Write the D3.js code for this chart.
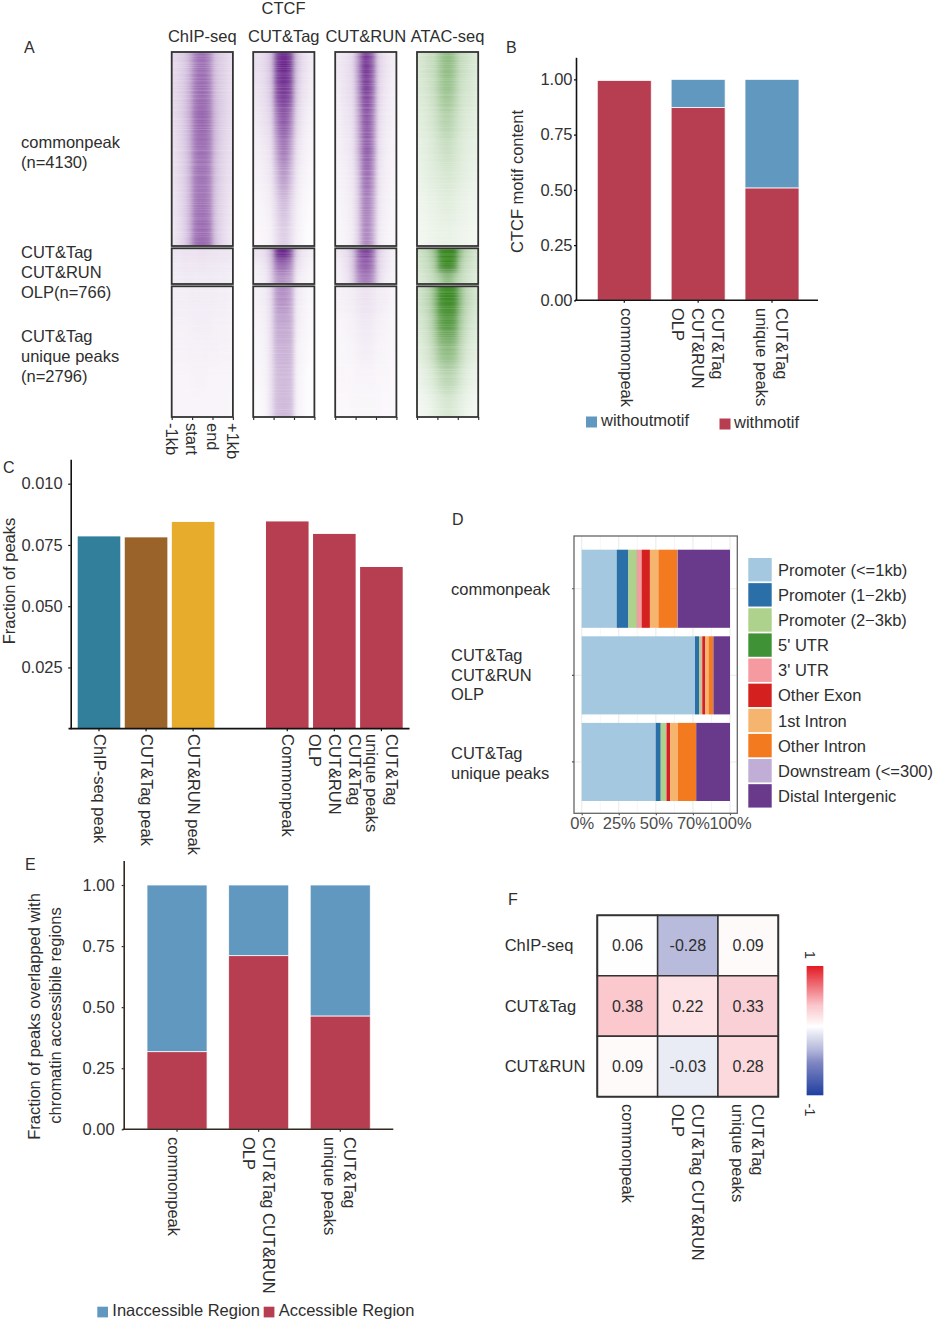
<!DOCTYPE html>
<html><head><meta charset="utf-8">
<script src="https://cdn.jsdelivr.net/npm/d3@7/dist/d3.min.js"></script>
<style>html,body{margin:0;padding:0;background:#fff}svg{display:block}text{font-family:"Liberation Sans",Arial,sans-serif;fill:#2e2e2e}</style>
</head><body><svg id="c" width="934" height="1321"></svg>
<script>
// ---------- Panel A: signal (rows top to bottom, bins -1kb .. +1kb)
const heatHeaders=["ChIP-seq","CUT&Tag","CUT&RUN","ATAC-seq"];
const heatTickLabels=["-1kb","start","end","+1kb"];
const chipCommon=[[.18,.21,.25,.36,.58,.68,.68,.56,.30,.24,.20,.16],[.18,.21,.26,.38,.62,.70,.70,.60,.32,.25,.20,.16],[.17,.20,.26,.38,.64,.72,.72,.62,.34,.25,.20,.16],[.15,.19,.24,.36,.60,.68,.68,.60,.32,.23,.18,.15],[.14,.18,.23,.35,.60,.66,.66,.58,.30,.22,.17,.14],[.13,.17,.22,.34,.60,.65,.65,.58,.28,.20,.16,.12],[.12,.16,.22,.36,.64,.70,.70,.64,.30,.20,.15,.11]];
const chipOlp=[[.12,.12,.13,.13,.13,.14,.14,.13,.13,.12,.12,.11],[.10,.10,.11,.11,.11,.12,.12,.11,.11,.10,.10,.09],[.09,.09,.10,.10,.10,.10,.10,.10,.10,.09,.09,.08]];
const chipUnique=[[.08,.08,.08,.09,.09,.09,.09,.09,.09,.08,.08,.07],[.07,.07,.07,.07,.08,.08,.08,.08,.07,.07,.07,.06],[.06,.06,.06,.07,.07,.07,.07,.07,.07,.06,.06,.06],[.05,.05,.05,.05,.06,.06,.06,.05,.05,.05,.05,.05],[.05,.05,.05,.05,.05,.05,.05,.05,.05,.05,.05,.04]];
const tagCommon=[[.15,.16,.20,.30,.85,1,1,.85,.30,.18,.13,.09],[.12,.14,.18,.26,.76,.90,.90,.76,.26,.15,.11,.08],[.10,.12,.15,.20,.56,.76,.76,.56,.20,.12,.08,.06],[.08,.09,.11,.15,.40,.62,.62,.40,.15,.09,.06,.05],[.06,.07,.09,.12,.28,.46,.46,.28,.12,.07,.05,.03],[.04,.05,.07,.09,.18,.30,.30,.18,.09,.05,.03,.02],[.03,.04,.05,.07,.14,.22,.22,.14,.07,.04,.02,.02]];
const tagOlp=[[.13,.13,.18,.32,.90,1,.97,.75,.22,.13,.10,.08],[.08,.10,.13,.26,.60,.70,.65,.50,.15,.10,.07,.05],[.06,.08,.10,.22,.44,.50,.46,.38,.10,.07,.05,.04]];
const tagUnique=[[.07,.08,.10,.18,.46,.52,.50,.40,.10,.08,.05,.04],[.05,.06,.08,.16,.38,.40,.40,.36,.09,.06,.04,.03],[.04,.05,.07,.15,.34,.36,.36,.34,.07,.05,.03,.02],[.03,.04,.06,.14,.30,.32,.32,.30,.06,.04,.02,.02],[.02,.03,.05,.14,.30,.32,.32,.30,.06,.04,.02,.02]];
const runCommon=[[.11,.12,.15,.20,.50,.90,.90,.68,.22,.15,.11,.08],[.09,.12,.15,.18,.46,.84,.86,.64,.20,.13,.09,.07],[.08,.10,.12,.16,.38,.74,.78,.56,.17,.11,.09,.06],[.07,.09,.10,.14,.34,.68,.76,.54,.15,.10,.07,.06],[.06,.07,.09,.12,.27,.62,.68,.47,.13,.09,.07,.05],[.05,.06,.08,.11,.24,.56,.60,.40,.12,.08,.06,.04],[.04,.05,.07,.10,.22,.52,.56,.36,.10,.07,.05,.04]];
const runOlp=[[.11,.13,.18,.30,.70,.86,.86,.66,.22,.15,.10,.07],[.08,.10,.15,.27,.60,.72,.72,.56,.20,.13,.09,.06],[.07,.09,.13,.24,.50,.60,.60,.46,.18,.10,.08,.05]];
const runUnique=[[.07,.07,.08,.09,.11,.13,.13,.11,.09,.08,.07,.05],[.05,.05,.06,.07,.09,.10,.10,.09,.07,.06,.05,.04],[.04,.04,.05,.05,.07,.08,.08,.07,.05,.05,.04,.04],[.04,.04,.04,.04,.05,.05,.05,.05,.04,.04,.04,.03],[.03,.03,.03,.04,.04,.04,.04,.04,.04,.03,.03,.03]];
const atacCommon=[[.20,.24,.28,.32,.46,.56,.56,.44,.30,.26,.22,.18],[.18,.20,.24,.30,.42,.50,.48,.38,.26,.22,.20,.16],[.15,.17,.20,.24,.32,.38,.36,.28,.22,.18,.16,.14],[.12,.14,.17,.20,.24,.27,.27,.22,.18,.15,.13,.12],[.10,.12,.14,.16,.18,.20,.20,.18,.15,.13,.11,.10],[.08,.09,.11,.12,.14,.15,.15,.13,.11,.10,.09,.08],[.06,.07,.09,.10,.11,.11,.11,.10,.09,.08,.07,.06]];
const atacOlp=[[.25,.30,.38,.55,.95,1,1,.95,.55,.35,.28,.22],[.22,.26,.32,.45,.88,1,1,.85,.42,.28,.24,.20],[.18,.22,.26,.32,.42,.55,.55,.40,.30,.24,.20,.16]];
const atacUnique=[[.24,.30,.38,.58,.92,.98,.98,.92,.58,.36,.28,.22],[.20,.24,.32,.48,.76,.84,.84,.74,.44,.30,.22,.18],[.15,.19,.24,.34,.50,.56,.56,.48,.32,.22,.17,.14],[.10,.13,.17,.22,.30,.35,.35,.30,.22,.16,.12,.10],[.06,.08,.10,.13,.17,.20,.20,.17,.13,.10,.08,.06]];
// ---------- Panel B
const motifCats=[["commonpeak"],["CUT&Tag","CUT&RUN","OLP"],["CUT&Tag","unique peaks"]];
const withMotif=[0.995,0.873,0.509];
const withoutMotif=[0,0.127,0.491];
const fracTicks=[0,0.25,0.5,0.75,1];
// ---------- Panel C
const peakCats=[["ChIP-seq peak"],["CUT&Tag peak"],["CUT&RUN peak"],[],["Commonpeak"],["CUT&Tag","CUT&RUN","OLP"],["CUT&Tag","unique peaks"]];
const peakValues=[0.0785,0.0781,0.0844,0,0.0846,0.0795,0.066];
const peakColors=["#327f9b","#99632a","#e7ac2c","#fff","#b73e50","#b73e50","#b73e50"];
const peakTicks=[0.025,0.05,0.075,0.1];
const peakTickLabels=["0.025","0.050","0.075","0.010"];
// ---------- Panel D
const annoCats=[["commonpeak"],["CUT&Tag","CUT&RUN","OLP"],["CUT&Tag","unique peaks"]];
const annoNames=["Promoter (<=1kb)","Promoter (1\u22122kb)","Promoter (2\u22123kb)","5' UTR","3' UTR","Other Exon","1st Intron","Other Intron","Downstream (<=300)","Distal Intergenic"];
const annoColors=["#a4c8df","#2b6fa9","#aed28b","#3f9336","#f49aa0","#d4201f","#f6b56f","#f47a20","#c0aed6","#693a8c"];
const annoCommon=[23.6,7.9,5.5,0.2,3.2,5.6,5.7,12.8,0.2,35.3];
const annoOlp=[76.4,2.7,1.4,0.1,0.7,2.1,2.1,3.2,0.1,11.2];
const annoUnique=[49.9,3.4,3.4,0.1,0.4,2.4,5.1,12.4,0.1,22.8];
const annoTicks=[0,25,50,75,100];
const annoTickLabels=["0%","25%","50%","70%","100%"];
// ---------- Panel E
const accessCats=[["commonpeak"],["CUT&Tag CUT&RUN","OLP"],["CUT&Tag","unique peaks"]];
const accessible=[0.318,0.711,0.464];
const inaccessible=[0.682,0.289,0.536];
// ---------- Panel F
const corrRows=["ChIP-seq","CUT&Tag","CUT&RUN"];
const corrCols=[["commonpeak"],["CUT&Tag CUT&RUN","OLP"],["CUT&Tag","unique peaks"]];
const corrValues=[[0.06,-0.28,0.09],[0.38,0.22,0.33],[0.09,-0.03,0.28]];
const corrStops=[-1,-0.5,-0.28,-0.03,0.04,0.07,0.09,0.22,0.33,0.38,1];
const corrStopColors=["#2040a0","#7f86c2","#b9bbdd","#e9ebf5","#fbfbfe","#ffffff","#fefafa","#fde3e5","#f9d0d5","#fbc8ce","#e31a24"];

const RED="#b73e50",BLUE="#6198bf",FS=16.5;
const svg=d3.select("#c");
const defs=svg.append("defs");
function txt(x,y,s,o={}){
  const t=svg.append("text").attr("x",x).attr("y",y).attr("dy",".35em").text(s)
    .attr("font-size",o.size||FS).attr("text-anchor",o.anchor||"start");
  if(o.rot!=null)t.attr("transform",`rotate(${o.rot} ${x} ${y})`);
  if(o.fill)t.style("fill",o.fill);
  return t;
}
// rotated, multi-line category label (first line on the right); singleDx nudges one-line labels
function rotLabels(cats,xPos,y0,singleDx=0,gap=20){
  cats.forEach((lines,i)=>{
    const c=xPos(i),n=lines.length;
    lines.forEach((l,j)=>{
      const x=c+(n===1?singleDx:0)+((n-1)/2-j)*gap;
      svg.append("text").attr("transform",`translate(${x},${y0}) rotate(90)`).attr("dy",".35em")
        .attr("font-size",FS).text(l);
    });
  });
}
function styleAxis(g,col,w){
  g.selectAll("text").attr("font-size",FS).style("font-family",'"Liberation Sans",Arial,sans-serif').style("fill","#333");
  g.selectAll("line").attr("stroke",col).attr("stroke-width",1.2);
  g.select(".domain").attr("stroke",col).attr("stroke-width",w);
}
// ---------- A
const heatX=[171.7,253.2,335.2,417];
const heatW=61.2;
const heatY=[[52,246],[248.3,284],[286.3,417]];
const heatData=[[chipCommon,chipOlp,chipUnique],[tagCommon,tagOlp,tagUnique],[runCommon,runOlp,runUnique],[atacCommon,atacOlp,atacUnique]];
const purple=d3.interpolateRgb("#ffffff","#6a258c");
const green=d3.interpolateRgb("#ffffff","#37871f");
const streak=defs.append("filter").attr("id","streak").attr("x",0).attr("y",0).attr("width","100%").attr("height","100%");
streak.append("feTurbulence").attr("type","fractalNoise").attr("baseFrequency","0.004 0.95").attr("numOctaves",2).attr("seed",7);
streak.append("feColorMatrix").attr("values","0 0 0 0 1  0 0 0 0 1  0 0 0 0 1  1.9 0 0 0 -0.72");
heatData.forEach((blocks,p)=>{
  const cmap=p===3?green:purple;
  const x=d3.scaleBand().domain(d3.range(12)).range([heatX[p],heatX[p]+heatW]);
  blocks.forEach((m,b)=>{
    const [y0,y1]=heatY[b];
    const y=d3.scaleBand().domain(d3.range(m.length)).range([y0,y1]);
    const id=`hc${p}${b}`,fid=`hb${p}${b}`;
    defs.append("clipPath").attr("id",id).append("rect").attr("x",heatX[p]).attr("y",y0).attr("width",heatW).attr("height",y1-y0);
    defs.append("filter").attr("id",fid).attr("x","-20%").attr("y","-20%").attr("width","140%").attr("height","140%")
      .append("feGaussianBlur").attr("stdDeviation",`1.9 ${y.bandwidth()/3.2}`);
    const g=svg.append("g").attr("clip-path",`url(#${id})`);
    const inner=g.append("g").attr("filter",`url(#${fid})`);
    const pad=30;
    m.forEach((row,r)=>row.forEach((v,c)=>{
      const x0=x(c)-(c===0?pad:0),x1=x(c)+x.bandwidth()+(c===11?pad:0)+.3;
      const yy0=y(r)-(r===0?pad:0),yy1=y(r)+y.bandwidth()+(r===m.length-1?pad:0)+.3;
      inner.append("rect").attr("x",x0).attr("y",yy0).attr("width",x1-x0).attr("height",yy1-yy0).attr("fill",cmap(v));
    }));
    g.append("rect").attr("x",heatX[p]).attr("y",y0).attr("width",heatW).attr("height",y1-y0)
      .attr("filter","url(#streak)").attr("opacity",.22);
    svg.append("rect").attr("x",heatX[p]).attr("y",y0).attr("width",heatW).attr("height",y1-y0)
      .attr("fill","none").attr("stroke","#333").attr("stroke-width",1.8);
  });
  const tx=d3.scalePoint().domain(heatTickLabels).range([heatX[p],heatX[p]+heatW]);
  const ag=svg.append("g").attr("transform","translate(0,417)").call(d3.axisBottom(tx).tickSize(3).tickSizeOuter(0).tickFormat(""));
  styleAxis(ag,"#333",0);
  ag.select(".domain").remove();
  txt(heatX[p]+heatW/2,36,heatHeaders[p],{anchor:"middle"});
  if(p===0) heatTickLabels.forEach(l=>{
    svg.append("text").attr("transform",`translate(${tx(l)},423) rotate(90)`).attr("dy",".35em").attr("font-size",FS).text(l);
  });
});
txt(283.5,8.6,"CTCF",{anchor:"middle"});
[["commonpeak",142],["(n=4130)",162],["CUT&Tag",252],["CUT&RUN",272],["OLP(n=766)",292],["CUT&Tag",336],["unique peaks",356],["(n=2796)",376]]
  .forEach(d=>txt(21,d[1],d[0]));
// panel letters
[["A",24,47],["B",506,47],["C",3,467],["D",452,519],["E",25,864],["F",508,899]].forEach(d=>txt(d[1],d[2],d[0],{size:16}));

// stacked two-part bar panel
function stackPanel(o){
  const x=d3.scaleBand().domain(d3.range(o.cats.length)).range([o.x0,o.x1]).paddingInner(o.pad);
  const y=d3.scaleLinear().domain([0,1.1]).range([o.yBase,o.yBase-(o.yBase-o.yOne)*1.1]);
  const series=d3.stack().keys(["low","high"])(o.low.map((v,i)=>({low:v,high:o.high[i]})));
  const cols=[RED,BLUE];
  series.forEach((s,k)=>svg.append("g").selectAll("rect").data(s).join("rect")
    .attr("x",(d,i)=>x(i)).attr("width",x.bandwidth())
    .attr("y",d=>y(d[1])).attr("height",d=>Math.max(0,y(d[0])-y(d[1])))
    .attr("fill",cols[k]).attr("stroke","#fff").attr("stroke-opacity",.85).attr("stroke-width",.9));
  const ya=svg.append("g").attr("transform",`translate(${o.axisX},0)`)
    .call(d3.axisLeft(y).tickValues(fracTicks).tickFormat(d3.format(".2f")).tickSize(2).tickPadding(o.tickPad).tickSizeOuter(0));
  styleAxis(ya,o.axisCol,1.6);
  const xa=svg.append("g").attr("transform",`translate(0,${o.yBase})`)
    .call(d3.axisBottom(x).tickSize(2.5).tickSizeOuter(0).tickFormat(""));
  styleAxis(xa,o.axisCol,1.6);
  xa.select(".domain").remove();
  svg.append("line").attr("x1",o.axisX-1).attr("x2",o.axisEnd).attr("y1",o.yBase).attr("y2",o.yBase).attr("stroke",o.axisCol).attr("stroke-width",1.6);
  rotLabels(o.cats,i=>x(i)+x.bandwidth()/2,o.labelY,o.singleDx);
}
function sq(x,y,s,c){svg.append("rect").attr("x",x).attr("y",y).attr("width",s).attr("height",s).attr("fill",c);}
// ---------- B
stackPanel({cats:motifCats,low:withMotif,high:withoutMotif,x0:597.3,x1:799,pad:.269,yBase:300.3,yOne:79.4,axisX:576,axisEnd:818,axisCol:"#111",labelY:308,tickPad:1.5,singleDx:2});
txt(517,181.5,"CTCF motif content",{anchor:"middle",rot:-90});
sq(586,416.5,11,BLUE);txt(601,420.5,"withoutmotif");
sq(719.5,418.5,11,RED);txt(734,422,"withmotif");
// ---------- C
{
  const x=d3.scaleBand().domain(d3.range(7)).range([77.7,402.7]).paddingInner(.095);
  const y=d3.scaleLinear().domain([0,.11]).range([728.7,728.7-245*1.1]);
  svg.append("g").selectAll("rect").data(peakValues).join("rect")
    .attr("x",(d,i)=>x(i)).attr("width",x.bandwidth()).attr("y",d=>y(d)).attr("height",d=>y(0)-y(d))
    .attr("fill",(d,i)=>peakColors[i]);
  const ya=svg.append("g").attr("transform","translate(70.7,0)")
    .call(d3.axisLeft(y).tickValues(peakTicks).tickFormat((d,i)=>peakTickLabels[i]).tickSize(2.5).tickPadding(5.5).tickSizeOuter(0));
  styleAxis(ya,"#111",1.6);
  const present=d3.range(7).filter(i=>peakCats[i].length);
  const xa=svg.append("g").attr("transform","translate(0,728.7)")
    .call(d3.axisBottom(x).tickValues(present).tickSize(2.5).tickSizeOuter(0).tickFormat(""));
  styleAxis(xa,"#111",1.6);
  xa.select(".domain").remove();
  svg.append("line").attr("x1",68.5).attr("x2",409.5).attr("y1",728.7).attr("y2",728.7).attr("stroke","#111").attr("stroke-width",1.8);
  rotLabels(peakCats,i=>x(i)+x.bandwidth()/2,734,1);
  txt(9,581,"Fraction of peaks",{anchor:"middle",rot:-90});
}
// ---------- D
{
  const x=d3.scaleLinear().domain([0,100]).range([581.7,730]);
  const rows=[annoCommon,annoOlp,annoUnique];
  const y=d3.scaleBand().domain(d3.range(3)).range([549.7,801]).paddingInner(.098);
  const frame={x:574,y:536,w:163.3,h:277.3};
  [12.5,37.5,62.5,87.5].forEach(v=>svg.append("line").attr("x1",x(v)).attr("x2",x(v)).attr("y1",frame.y).attr("y2",frame.y+frame.h).attr("stroke","#f2f2f2").attr("stroke-width",.8));
  annoTicks.forEach(v=>svg.append("line").attr("x1",x(v)).attr("x2",x(v)).attr("y1",frame.y).attr("y2",frame.y+frame.h).attr("stroke","#ebebeb").attr("stroke-width",1.1));
  d3.range(3).forEach(i=>svg.append("line").attr("x1",frame.x).attr("x2",frame.x+frame.w).attr("y1",y(i)+y.bandwidth()/2).attr("y2",y(i)+y.bandwidth()/2).attr("stroke","#ebebeb"));
  const table=rows.map(r=>Object.fromEntries(annoNames.map((n,i)=>[n,r[i]])));
  d3.stack().keys(annoNames)(table).forEach((s,k)=>{
    svg.append("g").selectAll("rect").data(s).join("rect")
      .attr("x",d=>x(d[0])).attr("width",d=>x(d[1])-x(d[0])).attr("y",(d,i)=>y(i)).attr("height",y.bandwidth()).attr("fill",annoColors[k]);
  });
  svg.append("rect").attr("x",frame.x).attr("y",frame.y).attr("width",frame.w).attr("height",frame.h).attr("fill","none").attr("stroke","#666").attr("stroke-width",1.3);
  const xa=svg.append("g").attr("transform",`translate(0,${frame.y+frame.h})`)
    .call(d3.axisBottom(x).tickValues(annoTicks).tickFormat((d,i)=>annoTickLabels[i]).tickSize(2).tickPadding(1.5).tickSizeOuter(0));
  styleAxis(xa,"#555",0);xa.select(".domain").remove();xa.selectAll("text").style("fill","#4d4d4d");
  const ya=svg.append("g").attr("transform",`translate(${frame.x},0)`)
    .call(d3.axisLeft(y).tickSize(2).tickSizeOuter(0).tickFormat(""));
  styleAxis(ya,"#555",0);ya.select(".domain").remove();
  [[589,"commonpeak"],[655,"CUT&Tag"],[675,"CUT&RUN"],[694,"OLP"],[753,"CUT&Tag"],[773,"unique peaks"]].forEach(d=>txt(451,d[0],d[1]));
  const ly=d3.scaleBand().domain(annoNames).range([558,558+25.13*10]);
  annoNames.forEach((n,i)=>{
    svg.append("rect").attr("x",748.3).attr("y",ly(n)).attr("width",23.4).attr("height",23.4).attr("fill",annoColors[i]);
    txt(778,ly(n)+12,n);
  });
}
// ---------- E
stackPanel({cats:accessCats,low:accessible,high:inaccessible,x0:147,x1:370.3,pad:.264,yBase:1129.3,yOne:885,axisX:123.7,axisEnd:393.3,axisCol:"#33291f",labelY:1137,tickPad:7,singleDx:-3});
txt(34,1016.5,"Fraction of peaks overlapped with",{anchor:"middle",rot:-90});
txt(55,1015.5,"chromatin accessibile regions",{anchor:"middle",rot:-90});
sq(97.3,1306.7,10.7,BLUE);txt(112.3,1310.5,"Inaccessible Region");
sq(263.7,1306.7,10.7,RED);txt(278.7,1310.5,"Accessible Region");
// ---------- F
{
  const x=d3.scaleBand().domain(d3.range(3)).range([597.3,778.3]);
  const y=d3.scaleBand().domain(corrRows).range([915.3,1096.7]);
  const col=d3.scaleLinear().domain(corrStops).range(corrStopColors).interpolate(d3.interpolateRgb);
  const fmt=d3.formatLocale({decimal:".",thousands:",",grouping:[3],currency:["",""],minus:"-"}).format(".2f");
  corrRows.forEach((r,ri)=>corrValues[ri].forEach((v,ci)=>{
    svg.append("rect").attr("x",x(ci)).attr("y",y(r)).attr("width",x.bandwidth()).attr("height",y.bandwidth())
      .attr("fill",col(v)).attr("stroke","#333").attr("stroke-width",1.5);
    txt(x(ci)+x.bandwidth()/2,y(r)+y.bandwidth()/2,fmt(v),{anchor:"middle",size:16});
  }));
  svg.append("rect").attr("x",597.3).attr("y",915.3).attr("width",181).attr("height",181.4).attr("fill","none").attr("stroke","#333").attr("stroke-width",1.8);
  corrRows.forEach(r=>txt(504.7,y(r)+y.bandwidth()/2,r));
  rotLabels(corrCols,i=>x(i)+x.bandwidth()/2,1104);
  const by=d3.scaleLinear().domain([1,-1]).range([966,1095]);
  const cells=d3.range(0,129);
  svg.append("g").selectAll("rect").data(cells).join("rect")
    .attr("x",806.7).attr("width",16.6).attr("y",d=>966+d).attr("height",1.3)
    .attr("fill",d=>col(by.invert(966+d+.5)));
  svg.append("text").attr("transform","translate(810,955) rotate(90)").attr("text-anchor","middle").attr("dy",".35em").attr("font-size",15).text("1");
  svg.append("text").attr("transform","translate(810,1110) rotate(90)").attr("text-anchor","middle").attr("dy",".35em").attr("font-size",15).text("-1");
}
</script></body></html>
